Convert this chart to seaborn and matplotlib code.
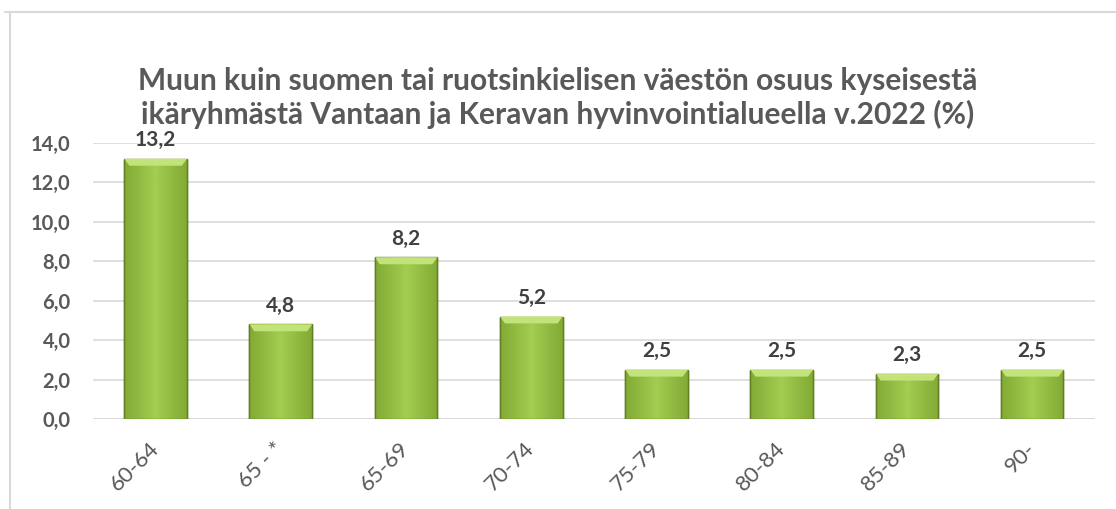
import matplotlib
matplotlib.use("Agg")
import matplotlib.pyplot as plt
import seaborn as sns
import numpy as np
import pandas as pd
from matplotlib.lines import Line2D
from matplotlib.patches import Polygon

# data
age_groups = ["60-64", "65 - *", "65-69", "70-74", "75-79", "80-84", "85-89", "90-"]
share_pct = [13.2, 4.8, 8.2, 5.2, 2.5, 2.5, 2.3, 2.5]
title = ("Muun kuin suomen tai ruotsinkielisen väestön osuus kyseisestä\n"
         "ikäryhmästä Vantaan ja Keravan hyvinvointialueella v.2022 (%)")

df = pd.DataFrame({"ikäryhmä": age_groups, "osuus": share_pct})

sns.set_theme(style="white")
plt.rcParams["font.family"] = ["Lato", "DejaVu Sans"]

fig = plt.figure(figsize=(11.16, 5.09), dpi=100, facecolor="white")
ax = fig.add_axes([0.0833, 0.1768, 0.8977, 0.5422])

sns.barplot(data=df, x="ikäryhmä", y="osuus", color="#94c043", width=0.5,
            edgecolor="#5f7f22", linewidth=1.0, ax=ax, zorder=3)

# gradient + bevel look on each bar
grad = np.linspace(0, 1, 64).reshape(1, -1)
grad = np.abs(grad - 0.5) * 2
cmap = matplotlib.colors.LinearSegmentedColormap.from_list("g", ["#a2cd50", "#82aa35"])
for bar in ax.patches:
    x0, y0 = bar.get_x(), bar.get_y()
    w, h = bar.get_width(), bar.get_height()
    im = ax.imshow(grad, extent=[x0, x0 + w, y0, y0 + h], aspect="auto",
                   cmap=cmap, zorder=3.5)
    im.set_clip_path(bar)
    bev = 0.35
    top = Polygon([[x0, y0 + h], [x0 + w, y0 + h],
                   [x0 + w - 0.04, y0 + h - bev], [x0 + 0.04, y0 + h - bev]],
                  closed=True, facecolor="#c2e37a", edgecolor="none", zorder=3.6)
    ax.add_patch(top)
    ax.add_patch(Polygon([[x0, y0 + h], [x0, y0], [x0 + w, y0], [x0 + w, y0 + h]],
                         closed=False, fill=False, edgecolor="#5f7f22",
                         linewidth=1.0, zorder=3.7))
    ax.text(x0 + w / 2, y0 + h + 0.45, f"{h:.1f}".replace(".", ","),
            ha="center", va="bottom", fontsize=15, fontweight="bold",
            color="#404040", zorder=5)

ax.set_xlim(-0.5, len(age_groups) - 0.5)
ax.set_ylim(0, 14)
ax.set_yticks(np.arange(0, 15, 2))
ax.set_yticklabels([f"{v:.1f}".replace(".", ",") for v in np.arange(0, 15, 2)],
                   fontsize=14.5, fontweight="bold", color="#595959")
ax.set_xticks(range(len(age_groups)))
ax.set_xticklabels(age_groups, rotation=45, fontsize=16, color="#595959",
                   ha="right", va="center", rotation_mode="anchor")
ax.tick_params(axis="both", length=0)
ax.tick_params(axis="x", pad=19)
ax.tick_params(axis="y", pad=16)
ax.yaxis.grid(True, color="#d9d9d9", linewidth=1.2, zorder=0)
ax.set_axisbelow(True)
ax.set_xlabel("")
ax.set_ylabel("")
for s in ax.spines.values():
    s.set_visible(False)
ax.axhline(0, color="#d9d9d9", linewidth=1.2, zorder=2)

fig.text(0.5, 0.808, title, ha="center", va="center", fontsize=21.5,
         fontweight="bold", color="#595959", linespacing=1.2)

# chart frame
fig.add_artist(Line2D([5 / 1116, 1], [1 - 12 / 509] * 2, color="#d9d9d9",
                      linewidth=1.5, transform=fig.transFigure))
fig.add_artist(Line2D([10 / 1116] * 2, [0, 1 - 12 / 509], color="#d9d9d9",
                      linewidth=1.5, transform=fig.transFigure))

fig.savefig("out.png", dpi=100, facecolor="white")
